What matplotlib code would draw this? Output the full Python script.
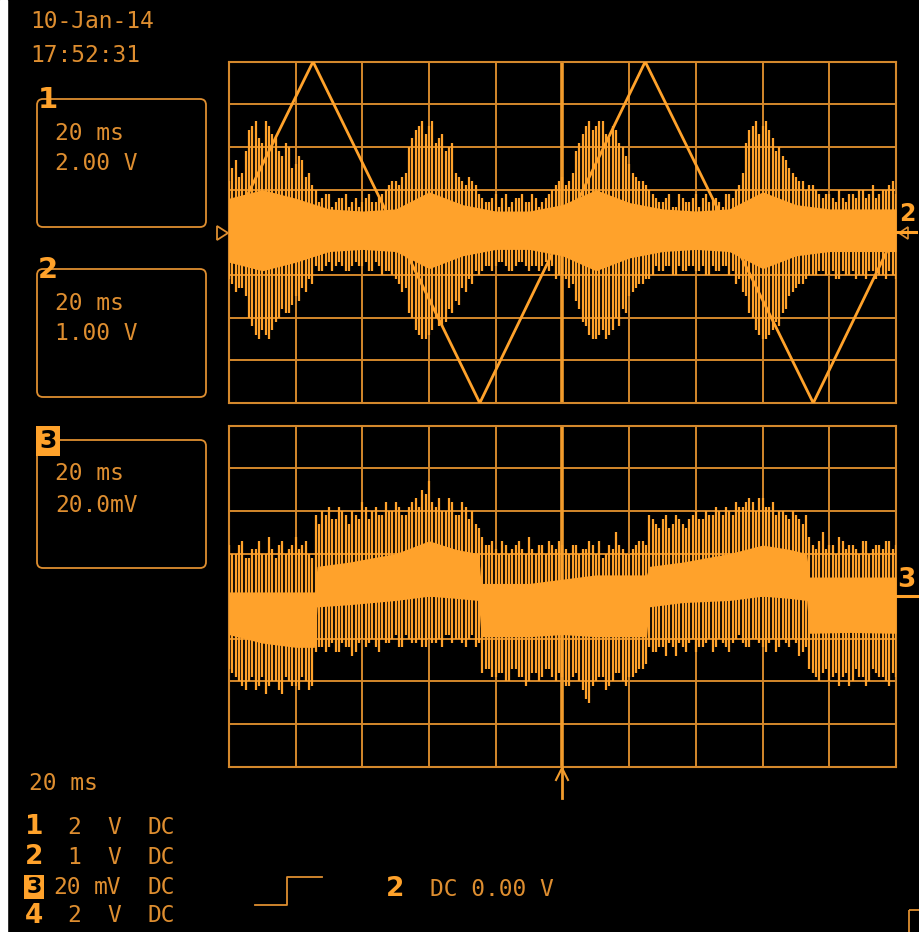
import numpy as np
import matplotlib
matplotlib.use("Agg")
import matplotlib.pyplot as plt
from matplotlib.patches import FancyBboxPatch, Rectangle, Polygon

# everything below is in screen divisions (10 x 8 graticule)

# channel 1 - triangle sweep, vertices
ch1_t = [0.0, 1.26, 3.76, 6.24, 8.76, 10.0]
ch1_v = [0.0, 4.0, -4.0, 4.0, -4.0, 0.0]

# channel 2 - spike peaks in tenths of a division
# *_top / *_bot_b sit at 0.0, 0.1 ... 10.0 ; *_top_b / *_bot sit at 0.05, 0.15 ... 9.95
ch2_top = [12, 17, 14, 24, 26, 21, 25, 22, 18, 20, 16, 17, 14,
           10, 8, 9, 7, 8, 6, 8, 7, 9, 7, 9, 11, 12, 13,
           20, 24, 26, 25, 21, 23, 20, 14, 12, 13, 11,
           8, 7, 9, 8, 6, 8, 9, 7, 8, 7, 9, 11, 13, 12,
           19, 23, 26, 25, 26, 22, 24, 20, 16, 13, 12, 10,
           8, 7, 9, 6, 8, 7, 9, 8, 7, 8, 6, 9, 10,
           14, 24, 26, 25, 24, 19, 18, 15, 13, 12, 11, 10,
           8, 9, 7, 8, 9, 8, 10, 9, 8, 10, 11, 9]
ch2_top_b = [15, 13, 19, 25, 22, 26, 23, 19, 21, 15, 18, 13, 11,
             7, 9, 6, 8, 9, 7, 6, 8, 7, 8, 10, 12, 11, 14,
             22, 25, 23, 26, 22, 19, 21, 13, 11, 12, 9,
             7, 8, 6, 9, 7, 8, 7, 9, 6, 8, 10, 12, 11, 14,
             21, 25, 24, 26, 23, 25, 21, 18, 14, 12, 11, 9,
             7, 8, 6, 9, 7, 8, 6, 9, 8, 7, 9, 8, 11,
             21, 25, 23, 26, 22, 20, 17, 14, 12, 10, 11, 9,
             9, 8, 10, 7, 9, 10, 8, 11, 9, 10, 12]
ch2_bot = [-12, -13, -15, -22, -25, -24, -23, -20, -19, -17, -16, -14, -12,
           -9, -8, -9, -7, -9, -8, -8, -7, -9, -8, -9, -10, -12, -13,
           -20, -24, -25, -23, -22, -21, -19, -17, -14, -12, -10,
           -8, -9, -7, -8, -9, -7, -8, -8, -9, -7, -8, -10, -11, -12,
           -18, -22, -25, -24, -25, -23, -22, -19, -14, -12, -11, -10,
           -9, -8, -10, -8, -9, -8, -9, -10, -8, -9, -8, -9, -11,
           -15, -20, -24, -25, -23, -22, -18, -14, -12, -11, -10, -9,
           -10, -9, -11, -10, -9, -10, -11, -9, -10, -11, -10]
ch2_bot_b = [-11, -14, -13, -20, -24, -23, -25, -21, -18, -19, -15, -13, -11,
             -8, -9, -7, -8, -8, -9, -7, -8, -9, -7, -10, -9, -11, -14,
             -19, -23, -25, -24, -20, -22, -18, -16, -13, -11, -9,
             -9, -8, -8, -7, -9, -8, -7, -9, -8, -8, -9, -11, -10, -13,
             -16, -21, -24, -25, -23, -24, -20, -18, -15, -13, -12, -11,
             -8, -9, -8, -10, -9, -8, -9, -8, -10, -9, -8, -10, -12,
             -14, -19, -23, -25, -24, -21, -19, -15, -13, -12, -10, -10,
             -9, -10, -11, -9, -10, -11, -10, -9, -11, -10, -9, -11]
# solid core of channel 2, every half division
ch2_core_hi = [0.8, 1.0, 0.8, 0.55, 0.5, 0.55, 0.95, 0.65, 0.5, 0.5, 0.65,
               1.0, 0.7, 0.55, 0.5, 0.55, 0.95, 0.65, 0.55, 0.55, 0.55]
ch2_core_lo = [-0.7, -0.9, -0.7, -0.45, -0.4, -0.45, -0.85, -0.55, -0.4, -0.4, -0.55,
               -0.9, -0.6, -0.45, -0.4, -0.45, -0.85, -0.55, -0.45, -0.45, -0.45]

# channel 3 - same layout as channel 2
ch3_top = [12, 10, 13, 9, 11, 10, 14, 9, 13, 11, 14, 12, 10,
           19, 20, 21, 18, 20, 17, 19, 22, 18, 21, 19, 20, 22, 19, 21, 23, 25, 27, 21, 20, 23, 19, 22, 18, 17,
           14, 12, 11, 13, 10, 12, 11, 14, 10, 12, 13, 11, 12, 10, 12, 11, 13, 10, 9, 12, 15, 11, 10, 12, 13,
           19, 17, 18, 16, 19, 17, 18, 20, 18, 19, 21, 19, 20, 22, 21, 23, 20, 23, 21, 19, 20, 18, 19, 17,
           14, 11, 15, 12, 10, 13, 12, 11, 13, 10, 12, 11, 13, 12]
ch3_top_b = [10, 12, 9, 11, 13, 10, 11, 12, 10, 12, 11, 13, 9,
             17, 19, 18, 21, 19, 20, 18, 21, 20, 19, 22, 20, 21, 19, 22, 21, 24, 22, 23, 20, 22, 19, 21, 20, 16,
             12, 13, 10, 12, 11, 13, 10, 11, 12, 10, 12, 13, 11, 12, 10, 11, 12, 13, 10, 11, 12, 10, 11, 13, 12,
             18, 16, 19, 17, 18, 16, 19, 18, 20, 19, 20, 21, 19, 21, 22, 22, 23, 21, 22, 20, 19, 20, 18, 19,
             12, 13, 11, 12, 14, 11, 12, 10, 13, 11, 12, 13, 11]
ch3_bot = [-18, -20, -22, -19, -21, -23, -20, -22, -19, -21, -22, -20, -21,
           -12, -13, -11, -13, -12, -14, -11, -12, -10, -13, -11, -10, -12, -9, -11, -10, -12, -11, -10, -9,
           -11, -10, -12, -9, -11,
           -17, -19, -18, -20, -17, -19, -21, -18, -20, -17, -19, -18, -21, -19, -20, -24, -21, -19, -22,
           -20, -18, -21, -19, -17, -16,
           -13, -12, -14, -12, -11, -13, -10, -12, -11, -13, -10, -12, -11, -9, -12, -10, -11, -13, -10,
           -12, -11, -10, -14, -12,
           -18, -20, -17, -19, -21, -18, -20, -19, -21, -17, -19, -20, -18]
ch3_bot_b = [-17, -19, -21, -20, -22, -19, -21, -20, -23, -20, -21, -19, -22,
             -13, -12, -12, -13, -11, -12, -13, -10, -11, -12, -10, -11, -9, -12, -10, -11, -12, -10, -11,
             -12, -9, -10, -11, -10, -12,
             -18, -17, -19, -18, -20, -17, -19, -20, -18, -19, -17, -20, -19, -21, -18, -22, -25, -20, -19,
             -21, -18, -20, -19, -18, -17,
             -12, -13, -12, -11, -14, -12, -11, -13, -12, -10, -12, -11, -13, -10, -11, -12, -10, -12, -11,
             -13, -10, -12, -11, -13,
             -17, -19, -18, -20, -18, -19, -21, -17, -19, -20, -18, -19, -21, -19]
# solid core of channel 3 (it switches level, so explicit break points)
ch3_core_t = [0, 0.5, 1.0, 1.28, 1.32, 1.8, 2.5, 3.0, 3.4, 3.74, 3.78, 4.5, 5.0, 5.5,
              6.26, 6.3, 6.8, 7.5, 8.0, 8.4, 8.66, 8.7, 9.3, 10]
ch3_core_hi = [0.1, 0.1, 0.1, 0.1, 0.7, 0.8, 1.0, 1.3, 1.1, 1.0, 0.3, 0.3, 0.4, 0.5,
               0.5, 0.7, 0.8, 1.0, 1.2, 1.1, 1.0, 0.45, 0.45, 0.45]
ch3_core_lo = [-0.9, -1.1, -1.2, -1.2, -0.25, -0.2, -0.1, 0.0, -0.05, -0.1, -0.95, -0.95, -0.9, -0.95,
               -0.95, -0.25, -0.15, -0.1, 0.0, -0.05, -0.1, -0.87, -0.85, -0.87]

# text on the screen
stamp = ['10-Jan-14', '17:52:31']
box_ids = ['1', '2', '3']
box_time = ['20 ms', '20 ms', '20 ms']
box_volts = ['2.00 V', '1.00 V', '20.0mV']
chan_ids = ['1', '2', '3', '4']
chan_vals = ['2', '1', '20', '2']
chan_units = ['V', 'V', 'mV', 'V']
timebase = '20 ms'
trig_src = '2'
trig_text = 'DC 0.00 V'

GRID = '#D4882C'
CENTER = '#F29C2C'
WAVE = '#FFA22B'
TXT = '#DE8E30'
W, H = 920, 932

fig = plt.figure(figsize=(W / 100, H / 100), dpi=100)
fig.patch.set_facecolor('black')


def px_axes(l, t, r, b):
    return fig.add_axes([l / W, 1 - b / H, (r - l) / W, (b - t) / H])


def graticule(ax):
    ax.set_facecolor('black')
    ax.set_xlim(0, 10)
    ax.set_ylim(-4, 4)
    ax.set_xticks(range(11))
    ax.set_yticks(range(-4, 5))
    ax.tick_params(length=0, labelbottom=False, labelleft=False)
    ax.grid(True, color=GRID, lw=1.4)
    ax.set_axisbelow(True)
    for s in ax.spines.values():
        s.set_color(GRID)
        s.set_linewidth(1.5)
    ax.axvline(5, color=CENTER, lw=2.6, zorder=1)


def spikes(ax, vals, offset, up):
    v = np.array(vals) / 10
    t = np.arange(len(v)) * 0.1 + offset
    if up:
        ax.vlines(t, 0, v, color=WAVE, lw=1.6, zorder=3)
    else:
        ax.vlines(t, v, 0, color=WAVE, lw=1.6, zorder=3)


def noisy_trace(ax, top, top_b, bot, bot_b, core_t, core_hi, core_lo):
    ax.fill_between(core_t, core_lo, core_hi, color=WAVE, lw=0, zorder=3)
    spikes(ax, top, 0.0, True)
    spikes(ax, top_b, 0.05, True)
    spikes(ax, bot, 0.05, False)
    spikes(ax, bot_b, 0.0, False)


ax1 = px_axes(229, 61.7, 896, 403)
graticule(ax1)
noisy_trace(ax1, ch2_top, ch2_top_b, ch2_bot, ch2_bot_b,
            np.arange(len(ch2_core_hi)) * 0.5, ch2_core_hi, ch2_core_lo)
ax1.plot(ch1_t, ch1_v, color=WAVE, lw=2.0, zorder=4)

ax2 = px_axes(229, 425.7, 896, 766.7)
graticule(ax2)
noisy_trace(ax2, ch3_top, ch3_top_b, ch3_bot, ch3_bot_b, ch3_core_t, ch3_core_hi, ch3_core_lo)

# overlay in pixel coordinates for the readouts
ov = fig.add_axes([0, 0, 1, 1])
ov.set_xlim(0, W)
ov.set_ylim(H, 0)
ov.axis('off')

ov.add_patch(Rectangle((0, 0), 7, H, color='white'))

T = dict(family='DejaVu Sans Mono', color=TXT, fontsize=16.5, va='center', ha='left')
B = dict(family='DejaVu Sans', color=WAVE, fontsize=21, fontweight='bold', va='center', ha='center')

ov.text(30, 22, stamp[0], **T)
ov.text(30, 55, stamp[1], **T)

for i, top in enumerate([99, 269, 440]):
    ov.add_patch(FancyBboxPatch((37, top), 169, 128, boxstyle='round,pad=0,rounding_size=6',
                                fill=False, ec=TXT, lw=1.3))
    ov.text(55, top + 34, box_time[i], **T)
    ov.text(55, top + 65, box_volts[i], **T)
    if box_ids[i] == '3':
        ov.text(48, top + 1, box_ids[i], **dict(B, color='black', fontsize=18),
                bbox=dict(boxstyle='square,pad=0.12', fc=WAVE, ec='none'))
    else:
        ov.text(48, top + 1, box_ids[i], **B)

ov.text(29, 783, timebase, **T)
for i, y in enumerate([827, 857, 887, 916]):
    if chan_ids[i] == '3':
        ov.text(34, y, chan_ids[i], **dict(B, color='black', fontsize=16),
                bbox=dict(boxstyle='square,pad=0.1', fc=WAVE, ec='none'))
    else:
        ov.text(34, y, chan_ids[i], **dict(B, fontsize=19))
    ov.text(81, y, chan_vals[i], **dict(T, ha='right'))
    ov.text(121, y, chan_units[i], **dict(T, ha='right'))
    ov.text(148, y, 'DC', **T)

# trigger readout
ov.plot([255, 287, 287, 322], [905, 905, 877, 877], color=TXT, lw=1.3)
ov.text(395, 889, trig_src, **dict(B, fontsize=19))
ov.text(430, 889, trig_text, **T)
ov.add_patch(Rectangle((909, 910), 16, 30, fill=False, ec=TXT, lw=1.3))

# channel markers
ov.add_patch(Polygon([(217, 226), (217, 240), (228, 233)], closed=True, fill=False, ec=TXT, lw=1.3))
ov.plot([896, 916], [232, 232], color=WAVE, lw=2.2)
ov.add_patch(Polygon([(908, 227), (908, 239), (899, 233)], closed=True, fill=False, ec=TXT, lw=1.2))
ov.text(907, 214, '2', **dict(B, fontsize=17))
ov.plot([896, 917], [596, 596], color=WAVE, lw=2.2)
ov.text(906, 580, '3', **dict(B, fontsize=19))

# trigger position arrow
ov.plot([562, 562], [767, 798], color=CENTER, lw=2)
ov.plot([556, 562, 568], [780, 768, 780], color=CENTER, lw=1.5)

fig.savefig('out.png', dpi=100, facecolor=fig.get_facecolor())
